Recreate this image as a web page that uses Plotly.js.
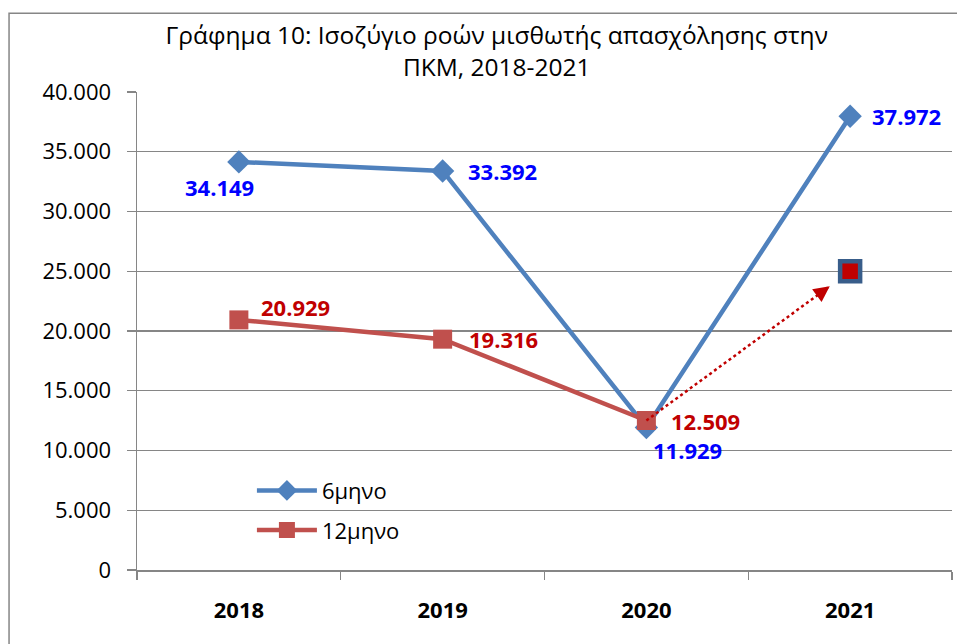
<!DOCTYPE html>
<html>
<head>
<meta charset="utf-8">
<script src="https://cdn.plot.ly/plotly-3.0.1.min.js"></script>
<style>html,body{margin:0;padding:0;background:#fff;}#chart{width:957px;height:644px;}</style>
</head>
<body>
<div id="chart"></div>
<script>
// ---- data ----
const years = ['2018', '2019', '2020', '2021'];
const sixMonth = [34149, 33392, 11929, 37972];
const twelveMonth = [20929, 19316, 12509];
const twelveMonthYears = ['2018', '2019', '2020'];
const forecastYear = '2021';
const forecastValue = 25000;
const seriesNames = ['6μηνο', '12μηνο'];
const titleText = 'Γράφημα 10: Ισοζύγιο ροών μισθωτής απασχόλησης στην<br>ΠΚΜ, 2018-2021';

// ---- styles ----
const blue = '#4F81BD', red = '#C0504D';
const blueLbl = '#0000FF', redLbl = '#C00000';
const grid = '#868686';
const font = "'Open Sans', 'Liberation Sans', sans-serif";
// label offsets (px) for data labels
const sixOffsets = [{xa:'center', dx:-19, dy:-25}, {xa:'left', dx:23, dy:0}, {xa:'left', dx:5, dy:-23}, {xa:'left', dx:20, dy:0}];
const twelveOffsets = [{xa:'left', dx:20, dy:13}, {xa:'left', dx:24, dy:0}, {xa:'left', dx:23, dy:0}];

function fmt(n) { return String(n).replace(/\B(?=(\d{3})+(?!\d))/g, '.'); }

const traces = [
  { x: years, y: sixMonth, name: seriesNames[0], type: 'scatter', mode: 'lines+markers',
    line: {color: blue, width: 4.5}, marker: {symbol: 'diamond', size: 18, color: blue},
    legendgroup: 'a' },
  { x: twelveMonthYears, y: twelveMonth, name: seriesNames[1], type: 'scatter', mode: 'lines+markers',
    line: {color: red, width: 4.5}, marker: {symbol: 'square', size: 19, color: red},
    legendgroup: 'b' },
  { x: [forecastYear], y: [forecastValue], type: 'scatter', mode: 'markers', showlegend: false,
    marker: {symbol: 'square', size: 20, color: '#C00000', line: {color: '#385D8A', width: 4.5}} }
];

const yi = (c) => years.indexOf(c);
const annotations = [];
sixMonth.forEach((v, i) => annotations.push({
  x: yi(years[i]), y: v, xref: 'x', yref: 'y', text: '<b>' + fmt(v) + '</b>', showarrow: false,
  xanchor: sixOffsets[i].xa, yanchor: 'middle', xshift: sixOffsets[i].dx, yshift: sixOffsets[i].dy,
  font: {family: font, size: 22, color: blueLbl}
}));
twelveMonth.forEach((v, i) => annotations.push({
  x: yi(twelveMonthYears[i]), y: v, xref: 'x', yref: 'y', text: '<b>' + fmt(v) + '</b>', showarrow: false,
  xanchor: twelveOffsets[i].xa, yanchor: 'middle', xshift: twelveOffsets[i].dx, yshift: twelveOffsets[i].dy,
  font: {family: font, size: 22, color: redLbl}
}));

// dotted arrow from last 12-month value towards the forecast marker
const x0 = yi(twelveMonthYears[twelveMonthYears.length - 1]);
const y0 = twelveMonth[twelveMonth.length - 1];
const x1 = yi(forecastYear), y1 = forecastValue;
const headFrac = 0.9, tailFrac = 0.86;
const hx = x0 + (x1 - x0) * headFrac, hy = y0 + (y1 - y0) * headFrac;
const tx = x0 + (x1 - x0) * tailFrac, ty = y0 + (y1 - y0) * tailFrac;
annotations.push({
  x: hx, y: hy, ax: tx, ay: ty, axref: 'x', ayref: 'y', xref: 'x', yref: 'y',
  text: '', showarrow: true, arrowhead: 2, arrowsize: 1.6, arrowwidth: 2, arrowcolor: '#C00000'
});

const shapes = [
  { type: 'line', xref: 'x', yref: 'y', x0: x0, y0: y0, x1: hx, y1: hy,
    line: {color: '#C00000', width: 2.5, dash: 'dot'} },
  // outer chart frame
  { type: 'rect', xref: 'paper', yref: 'paper', x0: -0.157, y0: -0.3, x1: 1.2, y1: 1.165,
    line: {color: grid, width: 1.5}, layer: 'below' }
];

const layout = {
  width: 957, height: 644,
  margin: {l: 137, r: 5, t: 92, b: 74},
  paper_bgcolor: '#fff', plot_bgcolor: '#fff',
  separators: ',.',
  title: {text: titleText, x: 0.519, xref: 'container', xanchor: 'center',
    y: 0.932, yref: 'container', yanchor: 'top',
    font: {family: font, size: 24.5, color: '#000'}},
  xaxis: {type: 'category', categoryorder: 'array', categoryarray: years, range: [-0.5, 3.5],
    tickson: 'boundaries', ticks: 'outside', ticklen: 8, tickcolor: grid, tickwidth: 1.3,
    showline: true, linecolor: grid, linewidth: 1.5, showgrid: false, zeroline: false,
    tickfont: {family: font, size: 22, color: '#000', weight: 'bold'}, ticklabelstandoff: 20,
    fixedrange: true},
  yaxis: {range: [0, 40000], dtick: 5000, tickformat: ',d', ticks: 'outside', ticklen: 9,
    tickcolor: grid, tickwidth: 1.3, showline: true, linecolor: grid, linewidth: 1.5,
    showgrid: true, gridcolor: grid, gridwidth: 1.3, zeroline: false,
    tickfont: {family: font, size: 22, color: '#000'}, ticklabelstandoff: 11, fixedrange: true},
  legend: {x: 0.141, y: 0.21, xanchor: 'left', yanchor: 'top', bgcolor: 'rgba(0,0,0,0)',
    font: {family: font, size: 22, color: '#000'}, traceorder: 'grouped', tracegroupgap: 8,
    itemwidth: 60},
  showlegend: true,
  annotations: annotations,
  shapes: shapes
};

Plotly.newPlot('chart', traces, layout, {displayModeBar: false, staticPlot: true});
</script>
</body>
</html>
